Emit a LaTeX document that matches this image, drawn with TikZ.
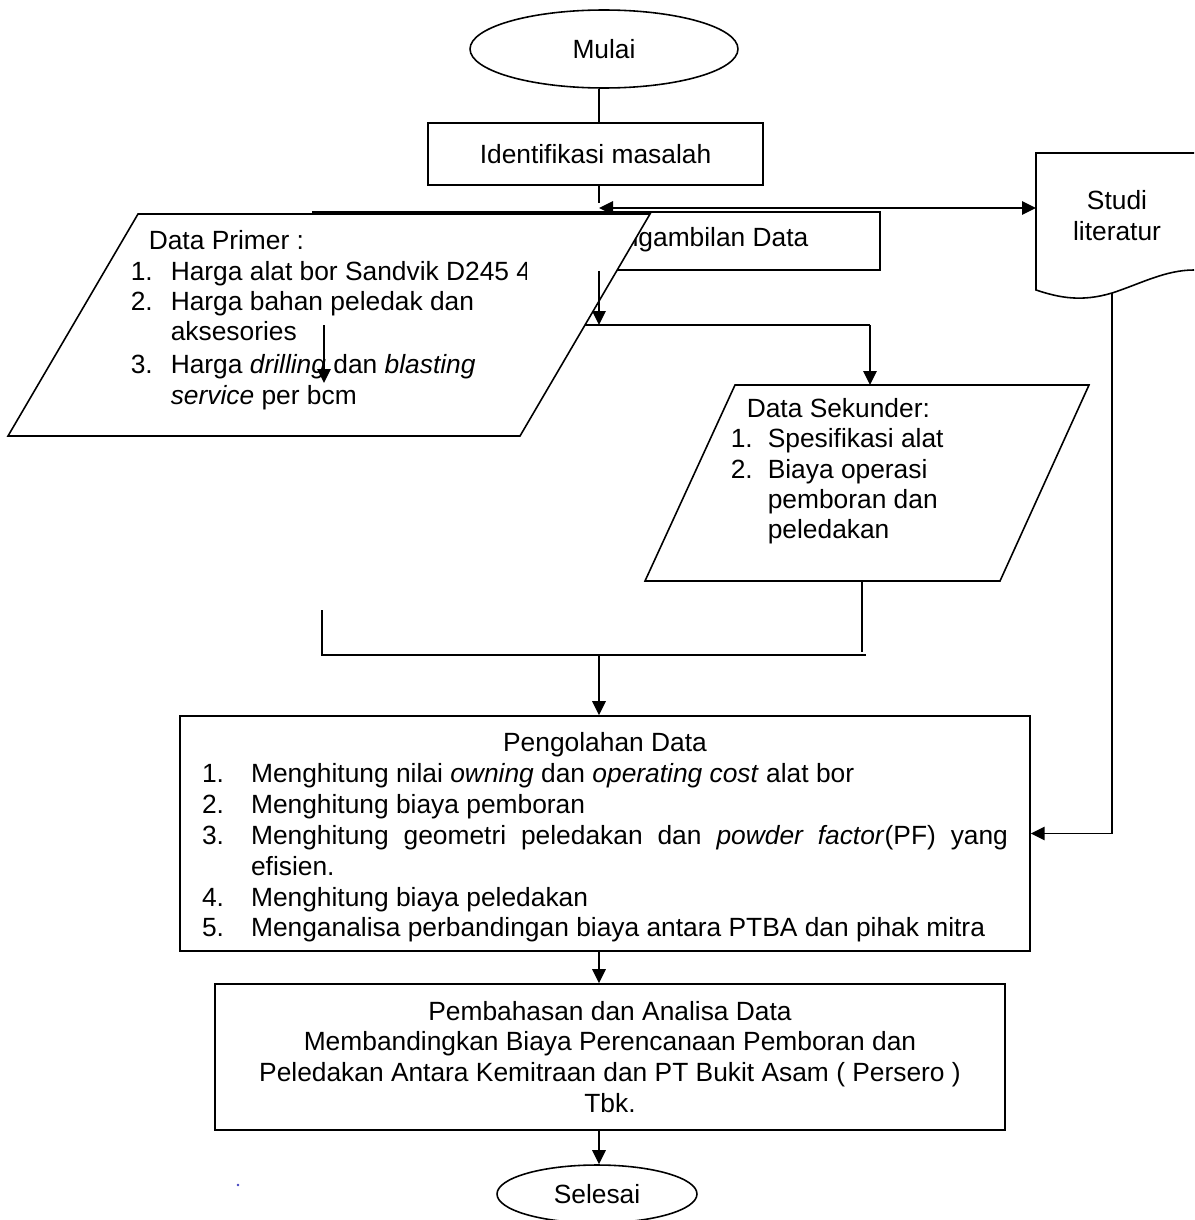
\documentclass[tikz,border=0pt]{standalone}
\usepackage{fontspec}
\setmainfont{Liberation Sans}
\usetikzlibrary{arrows.meta, shapes.geometric, calc}

\begin{document}
\begin{tikzpicture}[x=0.02cm, y=-0.02cm, line width=0.9pt,
  every node/.style={font=\fontsize{15}{17.6}\selectfont},
  box/.style={draw, rectangle, inner sep=0pt},
  term/.style={draw, ellipse, inner sep=0pt},
  arr/.style={-{Triangle[length=0.28cm, width=0.27cm]}}]
  \useasboundingbox (0,0) rectangle (1194,1220);
  % main vertical line of the chart
  \coordinate (spine) at (599,0);

  % Start and problem
  \node[term, minimum width=5.36cm, minimum height=1.56cm] (mulai) at (604,49) {Mulai};
  \node[box, minimum width=6.7cm, minimum height=1.24cm] (ident) at (595.5,154) {Identifikasi masalah};
  \draw (mulai.south -| spine) -- (ident.north -| spine);

  % Pengambilan Data box (partly hidden)
  \node[box, minimum width=11.34cm, minimum height=1.16cm] (ambil) at (596.5,241) {};
  \node (ambiltxt) at (700,240) {Pengambilan Data};

  % line to both data sources
  \coordinate (kiri) at (324,325);
  \coordinate (kanan) at (870,325);
  \draw (kiri) -- (kanan);

  % Data Primer
  \draw[fill=white] (138,214) -- (650,214) -- (520,436) -- (8,436) -- cycle;
  \begin{scope}
    \clip (0,0) rectangle (526,1220);
    \node[anchor=west, inner sep=0pt, font=\fontsize{15}{17.2}\selectfont] (primer) at (130,321) {%
      \begin{tabular}{@{}p{0.8cm}@{}l@{}}
        \multicolumn{2}{@{\hspace{0.36cm}}l@{}}{Data Primer :}\\
        1. & Harga alat bor Sandvik D245 4\\
        2. & Harga bahan peledak dan\\
           & aksesories\\[0.06cm]
        3. & Harga \textit{drilling} dan \textit{blasting}\\
           & \textit{service} per bcm
      \end{tabular}};
  \end{scope}

  % arrows from Pengambilan Data
  \coordinate (primer-in) at (324,383);
  \coordinate (sek-top) at (870,385);
  \draw[arr] (ambil.south -| spine) -- (kiri -| spine);
  \draw[arr] (kiri) -- (primer-in);
  \draw[arr] (kanan) -- (sek-top);

  % top double arrow to Studi literatur
  \coordinate (tick) at (599,203);
  \coordinate (studi-w) at (1036,208);
  \draw (ident.south -| spine) -- (tick);
  \draw[{Triangle[length=0.28cm, width=0.27cm]}-{Triangle[length=0.28cm, width=0.27cm]}] (tick |- studi-w) -- (studi-w);

  % Studi literatur (document shape)
  \draw (1194,153) -- (1036,153) -- (1036,290)
    .. controls (1060,298) and (1082,302) .. (1112,293)
    .. controls (1140,284) and (1165,270) .. (1194,270);
  \node[align=center] (studi) at (1117,216) {Studi\\literatur};
  \coordinate (studi-b) at (1112,293);

  % Data Sekunder
  \draw (735,385) -- (1089,385) -- (1000,581) -- (645,581) -- cycle;
  \node[anchor=west, inner sep=0pt, font=\fontsize{15}{17.2}\selectfont] (sekunder) at (730,472) {%
    \begin{tabular}{@{}p{0.74cm}@{}l@{}}
      \multicolumn{2}{@{\hspace{0.32cm}}l@{}}{Data Sekunder:}\\
      1. & Spesifikasi alat\\
      2. & Biaya operasi\\
         & pemboran dan\\
         & peledakan
    \end{tabular}};

  % joining bracket
  \coordinate (sek-b) at (862,581);
  \coordinate (sek-e) at (862,652);
  \coordinate (brk-l) at (322,610);
  \coordinate (brk-r) at (866,655);
  \coordinate (brk-m) at (599,655);
  \draw (sek-b) -- (sek-e);
  \draw (brk-l) |- (brk-r);

  % Pengolahan Data
  \node[box, minimum width=17cm, minimum height=4.7cm] (olah) at (605,833.5) {};
  \node (olahtxt) at (605,838) {%
    \begin{tabular}{@{}p{0.98cm}@{}p{15.14cm}@{}}
      \multicolumn{2}{c}{Pengolahan Data}\\
      1. & Menghitung nilai \textit{owning} dan \textit{operating cost} alat bor\\
      2. & Menghitung biaya pemboran\\
      3. & \makebox[\linewidth][s]{Menghitung geometri peledakan dan \textit{powder factor}(PF) yang}\\
         & efisien.\\
      4. & Menghitung biaya peledakan\\
      5. & Menganalisa perbandingan biaya antara PTBA dan pihak mitra
    \end{tabular}};
  \draw[arr] (brk-m) -- (olah.north -| spine);
  \draw[arr] (studi-b) |- (olah.east);

  % Pembahasan and end
  \node[box, minimum width=15.8cm, minimum height=2.92cm, align=center] (bahas) at (610,1057) {%
    Pembahasan dan Analisa Data\\
    Membandingkan Biaya Perencanaan Pemboran dan\\
    Peledakan Antara Kemitraan dan PT Bukit Asam ( Persero )\\
    Tbk.};
  \draw[arr] (olah.south -| spine) -- (bahas.north -| spine);
  \node[term, minimum width=4cm, minimum height=1.16cm] (selesai) at (597,1194) {Selesai};
  \draw[arr] (bahas.south -| spine) -- (selesai.north -| spine);

  % stray dot
  \fill[blue!50!gray] (238,1185) circle (1.3);
\end{tikzpicture}
\end{document}
